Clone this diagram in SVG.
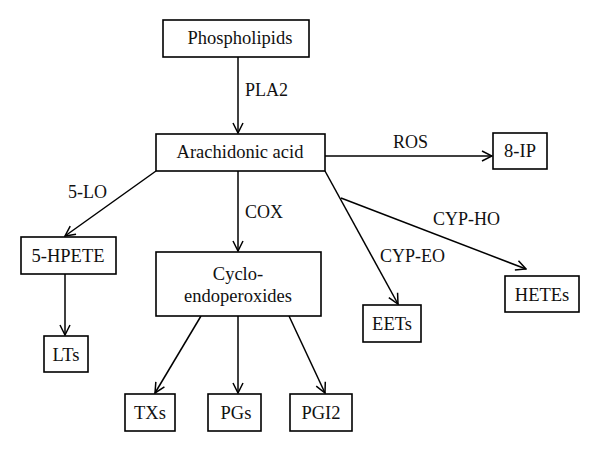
<svg xmlns="http://www.w3.org/2000/svg" width="600" height="452" viewBox="0 0 600 452">
<defs>
<style>
.box{fill:#fff;stroke:#000;stroke-width:1.6}
.t{font-family:"Liberation Serif","Times New Roman",serif;font-size:18.5px;fill:#111;text-anchor:middle}
.l{font-family:"Liberation Serif","Times New Roman",serif;font-size:18px;fill:#111}
.c{stroke:#000;stroke-width:1.5;fill:none;marker-end:url(#ah)}
</style>
<marker id="ah" viewBox="0 0 12 12" refX="11" refY="6" markerWidth="12" markerHeight="12" markerUnits="userSpaceOnUse" orient="auto">
<path d="M1,1 L11,6 L1,11" fill="none" stroke="#000" stroke-width="1.5"/>
</marker>
</defs>
<rect width="600" height="452" fill="#fff"/>
<g id="connectors">
<line class="c" x1="238" y1="57" x2="238" y2="133"/>
<line class="c" x1="156" y1="171" x2="65" y2="236"/>
<line class="c" x1="238" y1="171" x2="238" y2="251"/>
<line class="c" x1="325" y1="156" x2="492" y2="156"/>
<line class="c" x1="325" y1="171" x2="398" y2="304"/>
<line class="c" x1="341" y1="198" x2="526" y2="269"/>
<line class="c" x1="65" y1="274" x2="65" y2="335"/>
<line class="c" x1="201" y1="316" x2="155" y2="393"/>
<line class="c" x1="238" y1="316" x2="238" y2="393"/>
<line class="c" x1="289" y1="316" x2="325" y2="393"/>
<text class="l" x="245" y="96">PLA2</text>
<text class="l" x="68" y="198">5-LO</text>
<text class="l" x="245" y="218">COX</text>
<text class="l" x="393" y="148">ROS</text>
<text class="l" x="433" y="225">CYP-HO</text>
<text class="l" x="380" y="262">CYP-EO</text>
</g>
<g id="phospholipids"><rect class="box" x="163" y="20" width="146" height="37"/><text class="t" x="240" y="44">Phospholipids</text></g>
<g id="arachidonic"><rect class="box" x="156" y="134" width="169" height="37"/><text class="t" x="240" y="158">Arachidonic acid</text></g>
<g id="ip8"><rect class="box" x="493" y="133" width="54" height="36"/><text class="t" x="520" y="157">8-IP</text></g>
<g id="hpete"><rect class="box" x="21" y="237" width="95" height="37"/><text class="t" x="68" y="262">5-HPETE</text></g>
<g id="cyclo"><rect class="box" x="156" y="252" width="165" height="64"/><text class="t" x="238" y="280">Cyclo-</text><text class="t" x="238" y="302">endoperoxides</text></g>
<g id="eets"><rect class="box" x="363" y="305" width="58" height="37"/><text class="t" x="392" y="330">EETs</text></g>
<g id="hetes"><rect class="box" x="505" y="276" width="74" height="36"/><text class="t" x="542" y="301">HETEs</text></g>
<g id="lts"><rect class="box" x="44" y="336" width="44" height="36"/><text class="t" x="66" y="361">LTs</text></g>
<g id="txs"><rect class="box" x="125" y="394" width="50" height="37"/><text class="t" x="150" y="419">TXs</text></g>
<g id="pgs"><rect class="box" x="208" y="394" width="53" height="37"/><text class="t" x="236" y="419">PGs</text></g>
<g id="pgi2"><rect class="box" x="290" y="394" width="62" height="37"/><text class="t" x="321" y="419">PGI2</text></g>
</svg>
